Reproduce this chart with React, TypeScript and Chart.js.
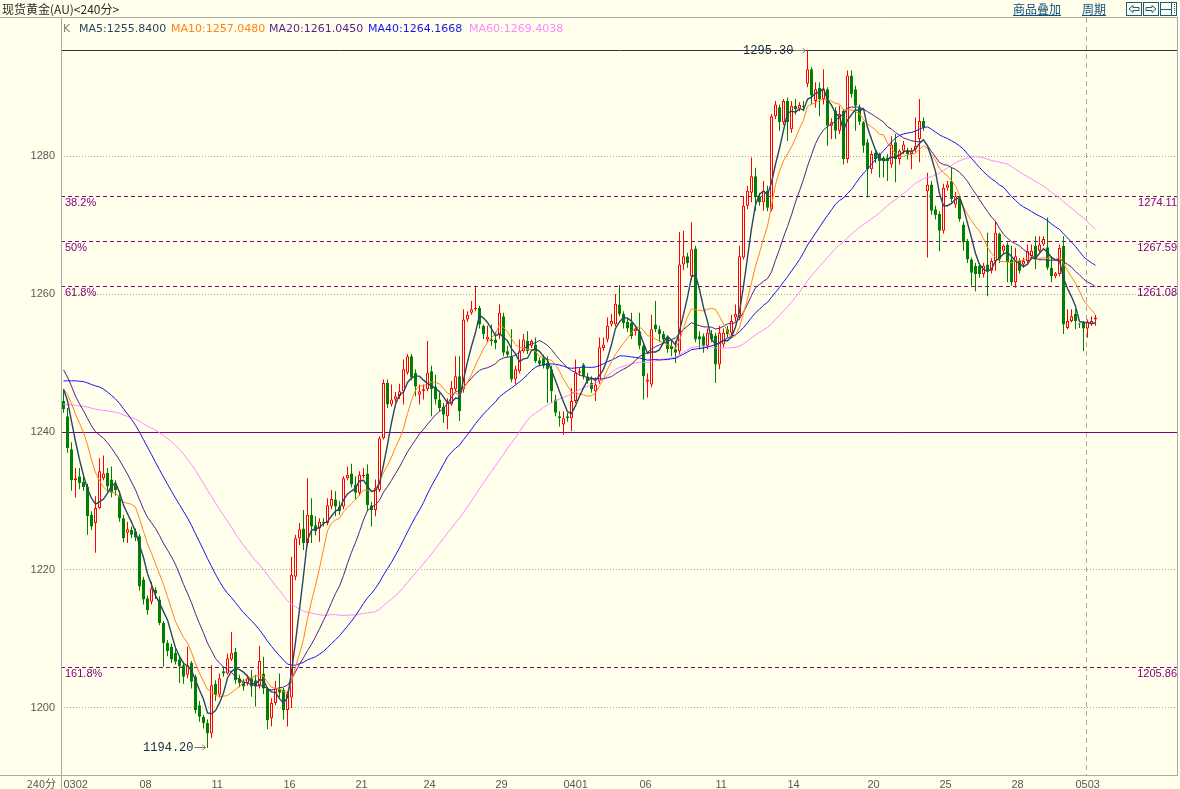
import React, { useEffect, useRef } from 'react';
import { Chart, registerables } from 'chart.js';

Chart.register(...registerables);

// ---------------- data ----------------
// closes of the 59 bars before the first visible bar (only used to seed the moving averages)
const priorCloses: number[] = [
  1236, 1238, 1239, 1237, 1235, 1234, 1236, 1238, 1240, 1239, 1237, 1236, 1237, 1238, 1239, 1238, 1237, 1236, 1235, 1239,
  1236, 1234, 1233, 1235, 1234, 1236, 1235, 1237, 1241, 1246, 1249, 1251, 1252, 1254, 1255, 1256, 1257, 1258, 1258, 1259,
  1258, 1260, 1262, 1255, 1252, 1250, 1248, 1246, 1244, 1243,
  1245, 1247, 1248, 1246, 1245,
  1246, 1248, 1247.7, 1246,
];

// 240-minute bars: [open, high, low, close]
const ohlc: [number, number, number, number][] = [
  [1244.5, 1246.2, 1242.8, 1243.3], [1242.3, 1243.5, 1237.0, 1237.7], [1237.5, 1238.5, 1231.5, 1233.0], [1233.0, 1234.8, 1230.5, 1233.3],
  [1233.6, 1234.8, 1231.7, 1232.6], [1232.8, 1233.5, 1231.5, 1232.0], [1232.1, 1232.5, 1225.1, 1227.8], [1228.0, 1228.5, 1225.8, 1226.3],
  [1226.8, 1230.7, 1222.5, 1229.0], [1229.0, 1236.2, 1228.8, 1234.3], [1233.3, 1236.6, 1233.0, 1234.0], [1234.1, 1234.8, 1231.2, 1232.1],
  [1233.1, 1235.0, 1230.5, 1231.2], [1232.4, 1233.0, 1230.8, 1231.6], [1230.7, 1231.5, 1227.0, 1227.5], [1227.5, 1228.0, 1224.0, 1224.6],
  [1225.4, 1227.0, 1223.9, 1225.9], [1225.8, 1226.3, 1224.6, 1225.1], [1225.6, 1226.0, 1224.2, 1224.7], [1224.9, 1225.2, 1217.0, 1217.6],
  [1218.6, 1219.0, 1215.0, 1215.7], [1215.9, 1216.3, 1213.5, 1214.2], [1215.4, 1218.3, 1215.0, 1217.3], [1217.1, 1217.5, 1215.8, 1216.6],
  [1215.7, 1216.2, 1212.0, 1212.3], [1212.3, 1212.6, 1206.0, 1209.4], [1209.4, 1209.8, 1207.5, 1208.2], [1208.9, 1209.3, 1206.5, 1207.0],
  [1208.0, 1208.5, 1206.3, 1206.7], [1207.0, 1207.4, 1203.6, 1206.0], [1206.2, 1206.6, 1203.5, 1204.5], [1204.8, 1208.9, 1204.3, 1206.2],
  [1206.5, 1206.8, 1202.8, 1203.8], [1204.5, 1204.8, 1199.2, 1199.7], [1200.4, 1201.0, 1198.0, 1198.7], [1198.7, 1199.0, 1197.0, 1197.8],
  [1197.8, 1198.3, 1194.2, 1196.3], [1196.3, 1206.2, 1195.6, 1203.3], [1203.5, 1204.0, 1201.0, 1201.9], [1201.9, 1205.0, 1201.5, 1204.3],
  [1205.3, 1206.0, 1204.5, 1205.0], [1205.0, 1207.9, 1204.8, 1207.2], [1207.0, 1211.0, 1206.8, 1208.0], [1208.1, 1208.7, 1203.5, 1204.0],
  [1204.3, 1204.8, 1203.0, 1203.6], [1203.8, 1204.2, 1202.5, 1203.1], [1203.6, 1204.8, 1203.2, 1204.3], [1204.3, 1205.5, 1201.6, 1203.1],
  [1204.0, 1204.8, 1200.2, 1203.1], [1203.3, 1209.0, 1202.8, 1206.8], [1205.0, 1207.4, 1202.0, 1202.8], [1202.8, 1203.0, 1196.9, 1198.2],
  [1198.5, 1201.4, 1197.3, 1200.7], [1200.7, 1203.9, 1200.4, 1202.8], [1202.8, 1205.0, 1201.5, 1202.2], [1202.6, 1202.9, 1198.3, 1199.7],
  [1199.7, 1202.5, 1197.3, 1202.1], [1201.5, 1221.9, 1200.0, 1219.3], [1219.0, 1225.1, 1218.5, 1224.6], [1224.6, 1226.8, 1223.6, 1225.9],
  [1226.0, 1228.7, 1222.9, 1223.9], [1223.9, 1233.3, 1223.5, 1228.0], [1228.0, 1230.4, 1223.9, 1226.3], [1226.5, 1227.8, 1225.0, 1225.6],
  [1226.0, 1227.5, 1224.1, 1227.0], [1227.0, 1227.5, 1226.3, 1226.8], [1226.8, 1230.4, 1226.5, 1229.4], [1229.2, 1231.6, 1228.8, 1230.3],
  [1230.2, 1231.4, 1227.8, 1229.2], [1229.2, 1230.0, 1228.0, 1228.5], [1229.2, 1233.6, 1228.8, 1233.3], [1233.3, 1235.0, 1233.0, 1233.8],
  [1234.0, 1235.4, 1232.0, 1232.4], [1232.4, 1233.6, 1230.2, 1231.2], [1231.2, 1234.3, 1230.8, 1233.8], [1233.6, 1234.8, 1233.3, 1233.8],
  [1234.0, 1235.3, 1228.5, 1229.4], [1229.4, 1229.9, 1226.3, 1228.7], [1228.7, 1233.1, 1227.8, 1231.9], [1231.6, 1239.4, 1231.3, 1239.1],
  [1239.1, 1247.6, 1238.9, 1247.1], [1247.1, 1247.6, 1243.5, 1244.0], [1244.0, 1246.9, 1243.7, 1244.7], [1244.7, 1245.8, 1244.3, 1245.2],
  [1245.2, 1247.0, 1244.8, 1245.9], [1245.9, 1250.5, 1244.0, 1249.1], [1248.6, 1251.3, 1248.3, 1251.0], [1251.0, 1251.3, 1247.5, 1247.9],
  [1248.6, 1249.1, 1245.2, 1246.6], [1245.4, 1246.9, 1244.0, 1245.9], [1245.9, 1246.9, 1244.7, 1246.2], [1246.2, 1253.2, 1245.9, 1248.6],
  [1248.8, 1249.6, 1242.3, 1246.2], [1246.6, 1248.3, 1244.0, 1244.7], [1244.7, 1245.7, 1243.0, 1243.5], [1243.7, 1244.2, 1241.3, 1242.5],
  [1242.3, 1244.9, 1240.4, 1244.2], [1244.0, 1247.4, 1243.8, 1246.4], [1246.2, 1251.0, 1245.9, 1248.1], [1248.1, 1251.0, 1241.6, 1243.0],
  [1246.2, 1257.8, 1245.7, 1256.3], [1256.3, 1257.5, 1256.0, 1257.0], [1257.3, 1259.0, 1257.0, 1257.8], [1257.8, 1261.2, 1257.5, 1258.0],
  [1258.0, 1258.3, 1255.0, 1255.6], [1255.4, 1255.6, 1253.5, 1254.2], [1253.4, 1255.4, 1253.0, 1253.8], [1253.4, 1255.6, 1252.5, 1253.2],
  [1253.4, 1254.5, 1252.0, 1252.9], [1254.0, 1258.5, 1253.5, 1257.3], [1256.8, 1257.3, 1251.0, 1251.5], [1251.7, 1252.5, 1250.8, 1251.2],
  [1251.0, 1254.9, 1247.2, 1247.6], [1247.6, 1249.6, 1246.9, 1249.1], [1248.8, 1253.4, 1248.5, 1251.7], [1251.7, 1254.2, 1251.5, 1253.4],
  [1253.2, 1254.6, 1251.3, 1251.7], [1252.5, 1253.4, 1252.2, 1253.2], [1252.7, 1253.7, 1250.0, 1250.3], [1250.4, 1250.8, 1249.5, 1249.9],
  [1250.7, 1251.2, 1249.2, 1249.6], [1250.0, 1251.0, 1244.2, 1249.1], [1249.1, 1249.6, 1244.2, 1245.9], [1244.7, 1245.4, 1242.3, 1242.8],
  [1242.3, 1243.0, 1240.8, 1242.0], [1241.1, 1243.0, 1239.6, 1242.0], [1242.3, 1242.8, 1241.5, 1242.0], [1242.0, 1246.4, 1240.1, 1244.5],
  [1244.5, 1250.5, 1244.2, 1248.6], [1248.6, 1249.3, 1248.2, 1248.8], [1249.8, 1250.0, 1247.6, 1248.1], [1248.1, 1248.6, 1247.0, 1247.4],
  [1247.1, 1248.1, 1245.7, 1246.2], [1245.9, 1247.9, 1244.5, 1246.9], [1247.4, 1253.7, 1247.0, 1252.3], [1252.2, 1253.7, 1251.8, 1252.7],
  [1253.4, 1256.6, 1253.0, 1255.4], [1255.6, 1257.1, 1255.3, 1256.1], [1255.6, 1260.0, 1255.3, 1258.6], [1258.5, 1261.3, 1256.8, 1257.1],
  [1257.1, 1257.5, 1255.0, 1255.8], [1256.0, 1256.5, 1254.5, 1255.0], [1255.8, 1257.3, 1253.5, 1253.9], [1254.6, 1255.5, 1254.0, 1255.0],
  [1254.6, 1257.3, 1252.0, 1252.5], [1252.5, 1253.0, 1244.7, 1248.1], [1247.3, 1248.5, 1245.0, 1247.6], [1246.9, 1257.0, 1246.5, 1254.9],
  [1255.6, 1259.0, 1254.5, 1254.9], [1254.9, 1255.4, 1253.0, 1254.2], [1254.2, 1254.6, 1252.8, 1253.4], [1253.7, 1254.0, 1251.5, 1252.0],
  [1252.5, 1253.2, 1251.0, 1252.0], [1252.0, 1253.2, 1250.0, 1251.5], [1251.7, 1269.0, 1251.2, 1264.3], [1264.3, 1269.2, 1263.5, 1265.5],
  [1265.5, 1266.0, 1263.8, 1264.5], [1262.6, 1270.4, 1262.0, 1266.5], [1266.6, 1267.0, 1253.0, 1253.4], [1253.9, 1254.6, 1252.0, 1253.4],
  [1253.9, 1254.3, 1251.5, 1252.5], [1252.5, 1255.0, 1252.0, 1254.4], [1254.2, 1254.8, 1253.0, 1253.4], [1254.0, 1254.4, 1247.1, 1249.8],
  [1249.8, 1255.4, 1249.1, 1254.4], [1252.7, 1255.0, 1252.3, 1254.4], [1254.9, 1255.4, 1253.7, 1254.2], [1254.4, 1257.0, 1254.0, 1256.1],
  [1256.6, 1258.5, 1256.0, 1257.1], [1256.8, 1267.0, 1256.2, 1265.5], [1265.3, 1274.2, 1265.0, 1272.8], [1272.8, 1275.7, 1272.3, 1275.0],
  [1274.7, 1279.8, 1273.3, 1277.1], [1277.1, 1278.3, 1272.1, 1274.2], [1274.2, 1274.7, 1272.8, 1273.3], [1273.3, 1276.4, 1272.1, 1275.0],
  [1275.0, 1275.7, 1272.0, 1272.5], [1272.3, 1286.1, 1272.0, 1285.8], [1285.8, 1288.0, 1285.4, 1287.5], [1287.1, 1287.5, 1283.7, 1284.9],
  [1284.9, 1288.3, 1284.5, 1288.0], [1288.0, 1288.5, 1282.2, 1284.9], [1283.9, 1288.0, 1283.4, 1287.3], [1287.3, 1288.3, 1286.0, 1286.8],
  [1286.9, 1287.8, 1286.5, 1287.4], [1287.3, 1288.0, 1286.5, 1287.1], [1290.5, 1295.3, 1290.0, 1292.6], [1292.6, 1292.9, 1287.5, 1288.8],
  [1288.0, 1290.7, 1287.0, 1289.7], [1289.9, 1290.7, 1285.8, 1288.3], [1288.3, 1292.6, 1287.5, 1289.7], [1289.7, 1290.0, 1281.5, 1284.4],
  [1284.4, 1285.5, 1282.5, 1284.9], [1286.6, 1287.1, 1282.5, 1283.7], [1283.7, 1287.3, 1283.2, 1286.1], [1286.6, 1286.8, 1278.8, 1279.6],
  [1279.6, 1292.4, 1279.0, 1291.7], [1291.7, 1292.4, 1288.5, 1289.0], [1289.7, 1290.2, 1283.7, 1287.3], [1287.1, 1287.5, 1284.5, 1285.0],
  [1284.9, 1285.1, 1280.5, 1281.5], [1282.0, 1282.5, 1274.0, 1278.1], [1278.1, 1280.8, 1277.5, 1280.3], [1280.5, 1280.8, 1279.0, 1279.6],
  [1280.3, 1280.5, 1276.9, 1279.3], [1279.8, 1280.0, 1276.9, 1279.3], [1279.8, 1280.3, 1276.4, 1279.3], [1278.8, 1282.9, 1278.3, 1281.7],
  [1282.0, 1283.2, 1276.2, 1279.6], [1279.6, 1281.0, 1278.8, 1280.8], [1280.8, 1282.2, 1280.3, 1281.7], [1280.8, 1281.2, 1279.5, 1280.3],
  [1280.3, 1281.2, 1278.1, 1280.8], [1281.0, 1285.6, 1280.5, 1281.5], [1282.5, 1288.3, 1279.1, 1285.1], [1285.1, 1285.6, 1283.7, 1284.2],
  [1274.9, 1277.6, 1265.3, 1275.9], [1275.9, 1276.4, 1271.5, 1272.1], [1272.3, 1272.8, 1270.8, 1271.46], [1271.6, 1272.0, 1266.2, 1269.2],
  [1269.2, 1276.0, 1268.8, 1275.4], [1275.4, 1276.4, 1275.0, 1275.9], [1276.4, 1278.3, 1273.3, 1273.8], [1273.0, 1274.8, 1272.5, 1274.2],
  [1273.8, 1274.0, 1270.5, 1270.9], [1270.1, 1270.5, 1266.3, 1267.5], [1267.7, 1268.0, 1264.5, 1265.0], [1265.0, 1265.3, 1261.2, 1263.1],
  [1264.1, 1264.5, 1260.4, 1262.9], [1264.1, 1264.5, 1262.4, 1262.9], [1262.9, 1264.5, 1262.4, 1264.1], [1264.3, 1268.9, 1259.7, 1263.4],
  [1263.4, 1265.2, 1263.0, 1264.8], [1264.8, 1270.6, 1263.4, 1268.9], [1268.7, 1268.9, 1264.5, 1265.0], [1266.3, 1267.2, 1265.8, 1267.0],
  [1267.2, 1267.5, 1261.7, 1264.6], [1265.0, 1267.0, 1261.2, 1261.7], [1261.7, 1266.7, 1260.9, 1265.47], [1264.8, 1265.2, 1263.0, 1263.4],
  [1264.3, 1265.3, 1263.8, 1264.8], [1264.8, 1267.2, 1264.5, 1266.3], [1265.5, 1267.2, 1265.0, 1266.3], [1267.0, 1268.4, 1263.6, 1265.0],
  [1266.3, 1268.4, 1266.0, 1267.2], [1267.2, 1268.4, 1267.0, 1268.0], [1266.8, 1271.1, 1263.5, 1263.8], [1263.8, 1265.5, 1261.7, 1262.6],
  [1262.6, 1263.2, 1262.3, 1263.02], [1262.9, 1267.2, 1262.6, 1266.68], [1267.0, 1268.4, 1254.2, 1255.6], [1255.1, 1257.8, 1254.9, 1256.1],
  [1256.1, 1257.8, 1255.9, 1256.8], [1257.1, 1257.8, 1254.9, 1256.1], [1255.6, 1255.8, 1255.1, 1255.5], [1255.9, 1256.1, 1251.7, 1255.0],
  [1255.0, 1256.3, 1253.7, 1256.0], [1255.6, 1256.8, 1255.4, 1256.1], [1256.3, 1257.0, 1255.4, 1256.6],
];

const dateTickIdx = [0, 19, 37, 55, 73, 90, 108, 125, 144, 163, 181, 201, 219, 237, 253];
const dateTickLabels = ['0302', '08', '11', '16', '21', '24', '29', '0401', '06', '11', '14', '20', '25', '28', '0503'];
const yTickValues = [1200, 1220, 1240, 1260, 1280];
const fibLevels = [1274.11, 1267.59, 1261.08, 1205.86];
const fibPercents = ['38.2%', '50%', '61.8%', '161.8%'];
const baseLevel = 1240;
const maPeriods = [5, 10, 20, 40, 60];
const maColors = ['#2A4563', '#FF8417', '#561E8A', '#1414F5', '#FF88FF'];
const sessionMarkIdx = 255.75;

// ---------------- styles ----------------
const BG = '#FFFFEC';
const UP = '#FF0000';
const DOWN = '#008000';
const FIB = '#7A0A72';
const FRAME = '#A9A9A9';
const xMin = -0.625;
const xMax = 278.625;
const yMin = 1190.27;
const yMax = 1300.03;

const closesAll = [...priorCloses, ...ohlc.map((d) => d[3])];
const cents = closesAll.map((v) => Math.round(v * 100));

function maSeries(p: number) {
  const off = priorCloses.length;
  return ohlc.map((_, i) => {
    let s = 0;
    for (let k = off + i - p + 1; k <= off + i; k++) s += cents[k];
    return { x: i, y: s / p / 100 };
  });
}
function maLast(p: number) {
  const end = cents.length;
  let s = 0;
  for (let k = end - p; k < end; k++) s += cents[k];
  return (Math.round((s * 100) / p) / 10000).toFixed(4);
}

const decorPlugin = {
  id: 'decor',
  beforeDraw(chart: any) {
    const { ctx, width, height } = chart;
    ctx.save();
    ctx.fillStyle = BG;
    ctx.fillRect(0, 0, width, height);
    ctx.restore();
  },
  beforeDatasetsDraw(chart: any) {
    const { ctx, chartArea: a, scales } = chart;
    const x = scales.x;
    const y = scales.y;
    ctx.save();
    ctx.lineWidth = 1;
    ctx.strokeStyle = FIB;
    ctx.setLineDash([4, 3]);
    fibLevels.forEach((v) => {
      const py = Math.floor(y.getPixelForValue(v)) + 0.5;
      ctx.beginPath();
      ctx.moveTo(a.left, py);
      ctx.lineTo(a.right, py);
      ctx.stroke();
    });
    ctx.strokeStyle = '#A8A8A8';
    ctx.setLineDash([5, 4]);
    const vx = Math.floor(x.getPixelForValue(sessionMarkIdx)) + 0.5;
    ctx.beginPath();
    ctx.moveTo(vx, a.top);
    ctx.lineTo(vx, a.bottom);
    ctx.stroke();
    ctx.setLineDash([]);
    ctx.strokeStyle = '#800080';
    const by = Math.floor(y.getPixelForValue(baseLevel)) + 0.5;
    ctx.beginPath();
    ctx.moveTo(a.left, by);
    ctx.lineTo(a.right, by);
    ctx.stroke();
    const maxHigh = Math.max(...ohlc.map((d) => d[1]));
    ctx.strokeStyle = '#3A2A3A';
    const hy = Math.floor(y.getPixelForValue(maxHigh)) + 0.5;
    ctx.beginPath();
    ctx.moveTo(a.left, hy);
    ctx.lineTo(a.right, hy);
    ctx.stroke();
    ctx.restore();
  },
  afterDatasetsDraw(chart: any) {
    const { ctx, chartArea: a, scales } = chart;
    const x = scales.x;
    const y = scales.y;
    ctx.save();
    ctx.font = '11px "Liberation Sans"';
    ctx.fillStyle = '#800080';
    ctx.textBaseline = 'middle';
    fibLevels.forEach((v, k) => {
      const py = y.getPixelForValue(v) + 6;
      ctx.textAlign = 'left';
      ctx.fillText(fibPercents[k], a.left + 4, py);
      ctx.textAlign = 'right';
      ctx.fillText(v.toFixed(2), a.right - 1, py);
    });
    const highs = ohlc.map((d) => d[1]);
    const lows = ohlc.map((d) => d[2]);
    const maxHigh = Math.max(...highs);
    const minLow = Math.min(...lows);
    const marks = [
      { idx: highs.indexOf(maxHigh), v: maxHigh },
      { idx: lows.indexOf(minLow), v: minLow },
    ];
    marks.forEach((m) => {
      const px = x.getPixelForValue(m.idx);
      const py = Math.floor(y.getPixelForValue(m.v)) + 0.5;
      ctx.strokeStyle = '#7A7A7A';
      ctx.lineWidth = 1;
      ctx.beginPath();
      ctx.moveTo(px - 13, py);
      ctx.lineTo(px - 2, py);
      ctx.moveTo(px - 5, py - 2.5);
      ctx.lineTo(px - 2, py);
      ctx.lineTo(px - 5, py + 2.5);
      ctx.stroke();
      ctx.font = '12px "Liberation Mono"';
      ctx.fillStyle = '#17284A';
      ctx.textAlign = 'right';
      ctx.fillText(m.v.toFixed(2), px - 14, py + 0.5);
    });
    ctx.restore();
  },
  afterDraw(chart: any) {
    const { ctx, chartArea: a, height } = chart;
    ctx.save();
    ctx.strokeStyle = FRAME;
    ctx.lineWidth = 1;
    ctx.beginPath();
    ctx.moveTo(0, 17.5);
    ctx.lineTo(a.right, 17.5);
    ctx.moveTo(0, a.bottom + 0.5);
    ctx.lineTo(a.right, a.bottom + 0.5);
    ctx.moveTo(a.left + 0.5, 17.5);
    ctx.lineTo(a.left + 0.5, height);
    ctx.moveTo(a.right - 0.5, 17.5);
    ctx.lineTo(a.right - 0.5, a.bottom + 0.5);
    ctx.stroke();
    ctx.restore();
  },
};

function CandleChart() {
  const ref = useRef<HTMLCanvasElement | null>(null);
  useEffect(() => {
    if (!ref.current) return;
    const isUp = ohlc.map((d) => d[3] >= d[0]);
    const wickData = ohlc.map((d, i) => ({ x: i, y: [d[2], d[1]] }));
    const bodyData = ohlc.map((d, i) => {
      const o = d[0];
      let c = d[3];
      if (Math.abs(c - o) < 0.12) c = o + 0.12;
      return { x: i, y: [o, c] };
    });
    const maSets = maPeriods.map((p, k) => ({
      type: 'line' as const,
      label: 'MA' + p,
      data: maSeries(p),
      borderColor: maColors[k],
      borderWidth: k === 0 ? 1.4 : 1,
      pointRadius: 0,
      tension: 0,
      fill: false,
      order: k,
    }));
    const chart = new Chart(ref.current, {
      type: 'bar',
      data: {
        datasets: [
          ...maSets,
          {
            type: 'bar',
            label: 'body',
            data: bodyData as any,
            backgroundColor: isUp.map((u) => (u ? BG : DOWN)),
            borderColor: isUp.map((u) => (u ? UP : DOWN)),
            borderWidth: 1,
            borderSkipped: false,
            barThickness: 3,
            grouped: false,
            inflateAmount: 0,
            order: 6,
          } as any,
          {
            type: 'bar',
            label: 'wick',
            data: wickData as any,
            backgroundColor: isUp.map((u) => (u ? UP : DOWN)),
            borderWidth: 0,
            barThickness: 1,
            grouped: false,
            inflateAmount: 0,
            order: 7,
          } as any,
        ],
      },
      options: {
        responsive: false,
        devicePixelRatio: 1,
        animation: false,
        events: [],
        layout: { padding: { top: 18, right: 2, bottom: 0, left: 0 } },
        plugins: { legend: { display: false }, tooltip: { enabled: false } },
        scales: {
          x: {
            type: 'linear',
            min: xMin,
            max: xMax,
            offset: false,
            grid: { display: false, drawTicks: false },
            border: { display: false },
            afterBuildTicks: (axis: any) => {
              axis.ticks = dateTickIdx.map((v) => ({ value: v }));
            },
            afterFit: (axis: any) => {
              axis.height = 14;
            },
            ticks: {
              autoSkip: false,
              maxRotation: 0,
              minRotation: 0,
              align: 'start',
              padding: 3,
              color: '#585858',
              font: { family: 'Liberation Sans', size: 11 },
              callback: (_v: any, i: number) => dateTickLabels[i],
            },
          },
          y: {
            type: 'linear',
            min: yMin,
            max: yMax,
            grid: { color: '#A8A8A8', drawTicks: false },
            border: { display: false, dash: [1, 2] },
            afterBuildTicks: (axis: any) => {
              axis.ticks = yTickValues.map((v) => ({ value: v }));
            },
            afterFit: (axis: any) => {
              axis.width = 61;
            },
            ticks: {
              padding: 6,
              color: '#585858',
              font: { family: 'Liberation Sans', size: 11 },
              callback: (v: any) => String(v),
            },
          },
        } as any,
      },
      plugins: [decorPlugin],
    });
    return () => chart.destroy();
  }, []);
  return <canvas ref={ref} width={1180} height={789} style={{ display: 'block', position: 'absolute', left: 0, top: 0 }} />;
}

const legendItems = [
  { left: 79, k: 0 },
  { left: 171, k: 1 },
  { left: 269, k: 2 },
  { left: 368, k: 3 },
  { left: 469, k: 4 },
];

export default function App() {
  const linkStyle: React.CSSProperties = {
    position: 'absolute',
    top: 1,
    font: '12px "Noto Sans CJK SC", sans-serif',
    lineHeight: '16px',
    color: '#124F7C',
    textDecoration: 'underline',
  };
  return (
    <div style={{ position: 'fixed', left: 0, top: 0, width: 1180, height: 789, background: BG, overflow: 'hidden' }}>
      <CandleChart />
      <div style={{ position: 'absolute', left: 2, top: 1, font: '12px "Noto Sans CJK SC", sans-serif', lineHeight: '16px', color: '#2A2A2A' }}>
        {'现货黄金(AU)<240分>'}
      </div>
      <div style={{ ...linkStyle, left: 1013 }}>商品叠加</div>
      <div style={{ ...linkStyle, left: 1082 }}>周期</div>
      <svg width="54" height="16" style={{ position: 'absolute', left: 1125, top: 1 }}>
        <g fill="none" stroke="#1C5A86" strokeWidth="1">
          <rect x="1.5" y="1.5" width="15" height="13" />
          <path d="M4 8 L8 4.5 L8 6.5 L14 6.5 L14 9.5 L8 9.5 L8 11.5 Z" />
          <rect x="18.5" y="1.5" width="15" height="13" />
          <path d="M31 8 L27 4.5 L27 6.5 L21 6.5 L21 9.5 L27 9.5 L27 11.5 Z" />
          <rect x="35.5" y="1.5" width="16" height="13" />
          <path d="M46.5 2 L46.5 14 M36 8.5 L46 8.5" />
          <path d="M49.5 3 L49.5 13" strokeDasharray="1 1" />
        </g>
      </svg>
      <div style={{ position: 'absolute', left: 63, top: 22, font: '11px "DejaVu Sans"', lineHeight: '14px', color: '#808080' }}>K</div>
      {legendItems.map((it) => (
        <div
          key={it.k}
          style={{ position: 'absolute', left: it.left, top: 22, font: '11px "DejaVu Sans"', lineHeight: '14px', color: maColors[it.k], whiteSpace: 'nowrap' }}
        >
          {'MA' + maPeriods[it.k] + ':' + maLast(maPeriods[it.k])}
        </div>
      ))}
      <div style={{ position: 'absolute', left: 20, width: 36, top: 776, textAlign: 'right', font: '11px "Noto Sans CJK SC", sans-serif', lineHeight: '14px', color: '#585858' }}>
        240分
      </div>
    </div>
  );
}
